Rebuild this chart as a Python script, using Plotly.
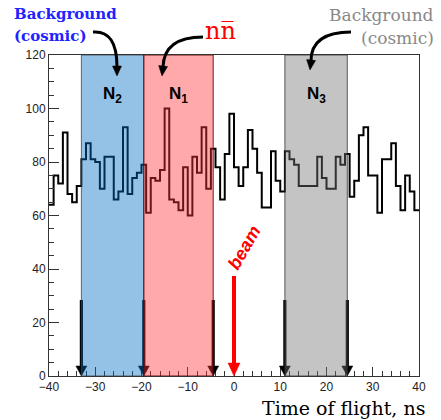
import plotly.graph_objects as go

# ---------------- data ----------------
bin_lo = -40.0
bin_hi = 40.0
counts = [64, 75, 72, 91, 68, 65, 71, 81, 87, 81,
          80, 70, 82, 82, 66, 69, 93, 68, 74, 76,
          79, 61, 74, 73, 77, 100, 66, 65, 62, 78,
          60, 82, 76, 93, 70, 85, 78, 66, 83, 98,
          78, 71, 78, 92, 85, 76, 63, 63, 84, 73,
          69, 84, 81, 79, 71, 71, 71, 71, 82, 74,
          70, 70, 82, 79, 83, 67, 73, 90, 93, 75,
          75, 61, 81, 81, 87, 71, 62, 75, 69, 62]

band_labels = ["N<sub>2</sub>", "N<sub>1</sub>", "N<sub>3</sub>"]
band_lo = [-33.0, -19.5, 11.0]
band_hi = [-19.5, -4.5, 24.5]
band_fill = ["rgba(0,110,195,0.42)", "rgba(255,50,55,0.42)", "rgba(115,115,115,0.42)"]
band_line = ["rgba(60,60,60,0.75)", "rgba(80,0,0,0.85)", "rgba(40,40,40,0.75)"]

window_edges = [-33.0, -19.5, -4.5, 11.0, 24.5]
window_arrow_top = 28.4
beam_time = 0.0
beam_arrow_top = 37.4

x_ticks = [-40, -30, -20, -10, 0, 10, 20, 30, 40]
y_ticks = [0, 20, 40, 60, 80, 100, 120]
x_title = "Time of flight, ns"

# ---------------- layout geometry ----------------
FW, FH = 441, 420
L, T, W, H = 49, 55, 370, 321


def px(X):
    return (X - L) / W


def py(Y):
    return (T + H - Y) / H


nb = len(counts)
bw = (bin_hi - bin_lo) / nb
edges = [bin_lo + i * bw for i in range(nb + 1)]

fig = go.Figure()
fig.add_trace(go.Scatter(
    x=edges, y=counts + [counts[-1]], mode="lines",
    line=dict(color="black", width=2, shape="hv"),
    hoverinfo="skip", showlegend=False))

shapes = []
ux = (bin_hi - bin_lo) / W    # ns per pixel
uy = 120.0 / H                # counts per pixel


def down_arrow(x0, top, color, lw, hw, hh):
    out = []
    out.append(dict(type="line", xref="x", yref="y", x0=x0, x1=x0,
                    y0=top, y1=hh * uy, line=dict(color=color, width=lw),
                    layer="above"))
    out.append(dict(type="path", xref="x", yref="y",
                    path=f"M {x0 - hw * ux},{hh * uy} L {x0 + hw * ux},{hh * uy} L {x0},0 Z",
                    fillcolor=color, line=dict(color=color, width=0.5),
                    layer="above"))
    return out


# window arrows (drawn below the translucent bands)
for e in window_edges:
    shapes += down_arrow(e, window_arrow_top, "black", 3.2, 5.5, 10)

for lo, hi, fc, lc in zip(band_lo, band_hi, band_fill, band_line):
    shapes.append(dict(type="rect", xref="x", yref="y", x0=lo, x1=hi, y0=0, y1=120,
                       fillcolor=fc, line=dict(color=lc, width=1), layer="above"))

shapes += down_arrow(beam_time, beam_arrow_top, "red", 4, 6, 13)


# curved arrows (decorative, pixel positions)
def curved(p0, c, p1, tip, hw=4.5):
    s = []
    s.append(dict(type="path", xref="paper", yref="paper",
                  path=f"M {px(p0[0])},{py(p0[1])} Q {px(c[0])},{py(c[1])} {px(p1[0])},{py(p1[1])}",
                  line=dict(color="black", width=3), layer="above"))
    dx, dy = tip[0] - p1[0], tip[1] - p1[1]
    n = (dx * dx + dy * dy) ** 0.5
    dx, dy = dx / n, dy / n
    bx, by = tip[0] - dx * 10, tip[1] - dy * 10
    a = (bx - dy * hw, by + dx * hw)
    b = (bx + dy * hw, by - dx * hw)
    s.append(dict(type="path", xref="paper", yref="paper",
                  path=f"M {px(a[0])},{py(a[1])} L {px(b[0])},{py(b[1])} L {px(tip[0])},{py(tip[1])} Z",
                  fillcolor="black", line=dict(color="black", width=0.5), layer="above"))
    return s


shapes += curved((93, 32), (117, 30), (117, 67), (117, 76))
shapes += curved((203, 37), (164, 37), (163, 67), (162, 76))
shapes += curved((351, 32), (311, 32), (311, 61), (310, 70))

annotations = []
for lab, lo, hi in zip(band_labels, band_lo, band_hi):
    annotations.append(dict(x=(lo + hi) / 2, y=105, xref="x", yref="y",
                            text=f"<b>{lab}</b>", showarrow=False,
                            font=dict(family="Liberation Sans", size=17, color="black")))

annotations.append(dict(x=beam_time + 10 * ux, y=128 * uy, xref="x", yref="y",
                        text="<b><i>beam</i></b>", textangle=-60, showarrow=False,
                        font=dict(family="Liberation Sans", size=18, color="red")))

blue = "#2222ff"
grey = "#888888"
annotations += [
    dict(x=px(12), y=py(14), xref="paper", yref="paper", xanchor="left", yanchor="middle",
         text="<b>Background</b>", showarrow=False,
         font=dict(family="DejaVu Serif", size=15, color=blue)),
    dict(x=px(12), y=py(36), xref="paper", yref="paper", xanchor="left", yanchor="middle",
         text="<b>(cosmic)</b>", showarrow=False,
         font=dict(family="DejaVu Serif", size=15, color=blue)),
    dict(x=px(436), y=py(15), xref="paper", yref="paper", xanchor="right", yanchor="middle",
         text="Background", showarrow=False,
         font=dict(family="DejaVu Serif", size=17, color=grey)),
    dict(x=px(436), y=py(38), xref="paper", yref="paper", xanchor="right", yanchor="middle",
         text="(cosmic)", showarrow=False,
         font=dict(family="DejaVu Serif", size=17, color=grey)),
    dict(x=px(220), y=py(31), xref="paper", yref="paper", xanchor="center", yanchor="middle",
         text="nn\u0305", showarrow=False,
         font=dict(family="DejaVu Serif", size=24, color="red")),
    dict(x=px(427), y=py(408), xref="paper", yref="paper", xanchor="right", yanchor="middle",
         text=x_title, showarrow=False,
         font=dict(family="DejaVu Serif", size=19, color="black")),
]

axis_common = dict(showgrid=False, zeroline=False, showline=True, mirror=True,
                   linecolor="#333333", linewidth=1, ticks="inside", tickcolor="#333333",
                   tickfont=dict(family="Liberation Sans", size=12, color="#222222"))

fig.update_layout(
    width=FW, height=FH,
    margin=dict(l=L, r=FW - L - W, t=T, b=FH - T - H),
    paper_bgcolor="white", plot_bgcolor="white",
    xaxis=dict(range=[bin_lo, bin_hi], tickvals=x_ticks, ticklen=9,
               minor=dict(ticks="inside", dtick=2, ticklen=5, tickcolor="#333333"),
               **axis_common),
    yaxis=dict(range=[0, 120], tickvals=y_ticks, ticklen=10,
               minor=dict(ticks="inside", dtick=5, ticklen=5, tickcolor="#333333"),
               **axis_common),
    shapes=shapes, annotations=annotations, showlegend=False,
)

fig.write_html("out.html")
